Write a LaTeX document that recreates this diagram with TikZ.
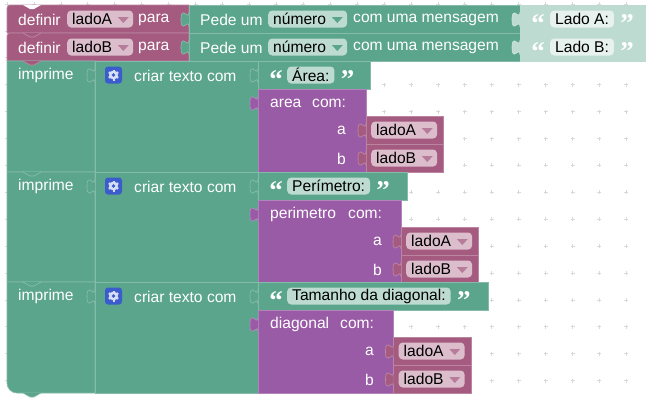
\documentclass[tikz,border=0pt]{standalone}
\usepackage{fontspec}
\setmainfont{Liberation Sans}
\newfontfamily\quotefont{Liberation Serif}
\definecolor{pinkblk}{HTML}{A55B80}
\definecolor{greenblk}{HTML}{5BA58C}
\definecolor{purpleblk}{HTML}{995BA5}
\definecolor{lightblk}{HTML}{BEDBD1}
\definecolor{pinkfld}{HTML}{DBBDCC}
\definecolor{greenfld}{HTML}{BDDBD1}
\definecolor{lightfld}{HTML}{E7F2EE}
\definecolor{gearblue}{HTML}{3A5CCC}
\tikzset{
  lbl/.style={anchor=west,inner sep=0pt,yshift=-0.7pt,text=white,font=\fontsize{15.6}{18}\selectfont},
  pill/.style={anchor=west,rounded corners=4pt,minimum height=17pt,inner xsep=5pt,inner ysep=0pt,text=black,font=\fontsize{15.6}{18}\selectfont},
  qmark/.style={inner sep=0pt,text=white,font=\quotefont\bfseries\fontsize{27}{27}\selectfont},
  blk/.style={line width=0.6pt,draw=#1!75!white,fill=#1},
}
% value input tab, x is the edge of the block and y the middle of its row
\newcommand{\inputtab}[3]{
  \draw[line width=0.6pt,draw=#3!70!white,fill=#3] (#1,#2-7) .. controls (#1,#2+3) and (#1-8,#2-15) .. (#1-8,#2+0.5)
    .. controls (#1-8,#2+16) and (#1,#2-2) .. (#1,#2+8);
}
% small tab under a statement block
\newcommand{\nexttab}[2]{
  \draw[line width=0.6pt,draw=#2!70!white,fill=#2] (23,#1) -- (30,#1+4) -- (34,#1+4) -- (41,#1);
}
\newcommand{\dropmark}[2]{
  \fill[#2] ([xshift=-15.5pt,yshift=2pt]#1.east) -- ([xshift=-4.5pt,yshift=2pt]#1.east) -- ([xshift=-10pt,yshift=-4pt]#1.east) -- cycle;
}
% variable block: name, x, y of the row, label
\newcommand{\varblock}[4]{
  \draw[blk=pinkblk] (#2,#3-14) rectangle (#2+77.5,#3+14);
  \inputtab{#2}{#3}{pinkblk}
  \node[pill,fill=pinkfld] (#1) at (#2+5,#3) {#4\kern16pt};
  \dropmark{#1}{pinkblk!80!white}
}
\begin{document}
\begin{tikzpicture}[x=1pt,y=-1pt]
  \useasboundingbox[fill=white] (0,0) rectangle (650,402);
  \foreach \i in {0,...,23}
    \foreach \j in {0,...,14}
      \draw[gray!30,line width=0.7pt,shift={(7+26.93*\i,4+26.9*\j)}] (-2,0) -- (2,0) (0,-2) -- (0,2);

  % the two definir rows
  \foreach \rowid/\top/\varname in {A/5/ladoA,B/33/ladoB}{
    \pgfmathsetmacro{\mid}{\top+14}
    \draw[blk=pinkblk] (7,\top+3) arc (180:270:3) -- (189,\top) -- (189,\top+28) -- (7,\top+28) -- cycle;
    \draw[blk=greenblk] (189,\top) rectangle (520,\top+28);
    \draw[blk=lightblk,draw=lightblk] (520,\top) rectangle (645,\top+28);
    \inputtab{189}{\mid}{greenblk}
    \inputtab{520}{\mid}{lightblk}
    \node[lbl] (def\rowid) at (18,\mid) {definir};
    \node[pill,fill=pinkfld] (var\rowid) at (67,\mid) {\varname\kern16pt};
    \dropmark{var\rowid}{pinkblk!80!white}
    \node[lbl] (para\rowid) at (138,\mid) {para};
    \node[lbl] (pede\rowid) at (200,\mid) {Pede um};
    \node[pill,fill=greenfld] (num\rowid) at (268,\mid) {número\kern16pt};
    \dropmark{num\rowid}{greenblk}
    \node[lbl] (msg\rowid) at (353,\mid) {com uma mensagem};
    \node[qmark] (open\rowid) at (538,\mid+5) {“};
    \node[pill,fill=lightfld] (txt\rowid) at (550,\mid) {Lado \rowid:};
    \node[qmark] (close\rowid) at (627,\mid+5) {”};
  }
  \fill[white] (23,5) -- (30,9) -- (34,9) -- (41,5) -- cycle;
  \nexttab{33}{pinkblk}

  % the three imprime groups
  \foreach \rowid/\top/\bot/\rad/\tw/\pw/\word/\fw/\comx/\ax/\vx/\tlabel in {
    r/61/172/0.01/370/366/area/270/312/337/366/Área:,
    s/172/282/0.01/407/401/perimetro/270/348/373/401/Perímetro:,
    t/282/393/10/488/393/diagonal/270/340/365/393.5/Tamanho da diagonal:}{
    \pgfmathsetmacro{\mid}{\top+14}
    \draw[blk=greenblk] (7,\top) -- (95,\top) -- (95,\bot) -- (7+\rad,\bot) arc (90:180:\rad) -- cycle;
    \draw[blk=greenblk] (95,\top) rectangle (258,\bot);
    \draw[blk=greenblk] (258,\top) rectangle (\tw,\top+28);
    \draw[blk=purpleblk] (258,\top+28) rectangle (\pw,\bot);
    \inputtab{95}{\mid}{greenblk}
    \inputtab{258}{\mid}{greenblk}
    \inputtab{258}{\mid+28}{purpleblk}
    \node[lbl] (print\rowid) at (18,\mid) {imprime};
    \node[lbl] (join\rowid) at (134,\mid) {criar texto com};
    \node[rounded corners=3pt,fill=gearblue,minimum size=17pt,inner sep=0pt] (gear\rowid) at (113.5,\mid) {};
    \fill[white!80!gearblue] (gear\rowid.center) circle (4.5pt);
    \foreach \a in {30,90,...,330}
      \draw[line width=2pt,white!80!gearblue] (gear\rowid.center) -- ++(\a:5.5);
    \fill[gearblue] (gear\rowid.center) circle (1.8pt);
    \node[qmark] (open\rowid) at (276,\mid+5) {“};
    \node[pill,fill=greenfld] (txt\rowid) at (287,\mid) {\tlabel};
    \node[qmark,anchor=west] (close\rowid) at ([xshift=6pt,yshift=-5pt]txt\rowid.east) {”};
    \node[lbl] (call\rowid) at (\fw,\mid+28) {\word};
    \node[lbl] (com\rowid) at (\comx,\mid+28) {com:};
    \node[lbl] (a\rowid) at (\ax,\mid+55) {a};
    \node[lbl] (b\rowid) at (\ax,\mid+83) {b};
    \varblock{va\rowid}{\vx}{\mid+55}{ladoA}
    \varblock{vb\rowid}{\vx}{\mid+83}{ladoB}
  }
  \nexttab{61}{pinkblk}
  \nexttab{172}{greenblk}
  \nexttab{282}{greenblk}
  \nexttab{393}{greenblk}
\end{tikzpicture}
\end{document}
